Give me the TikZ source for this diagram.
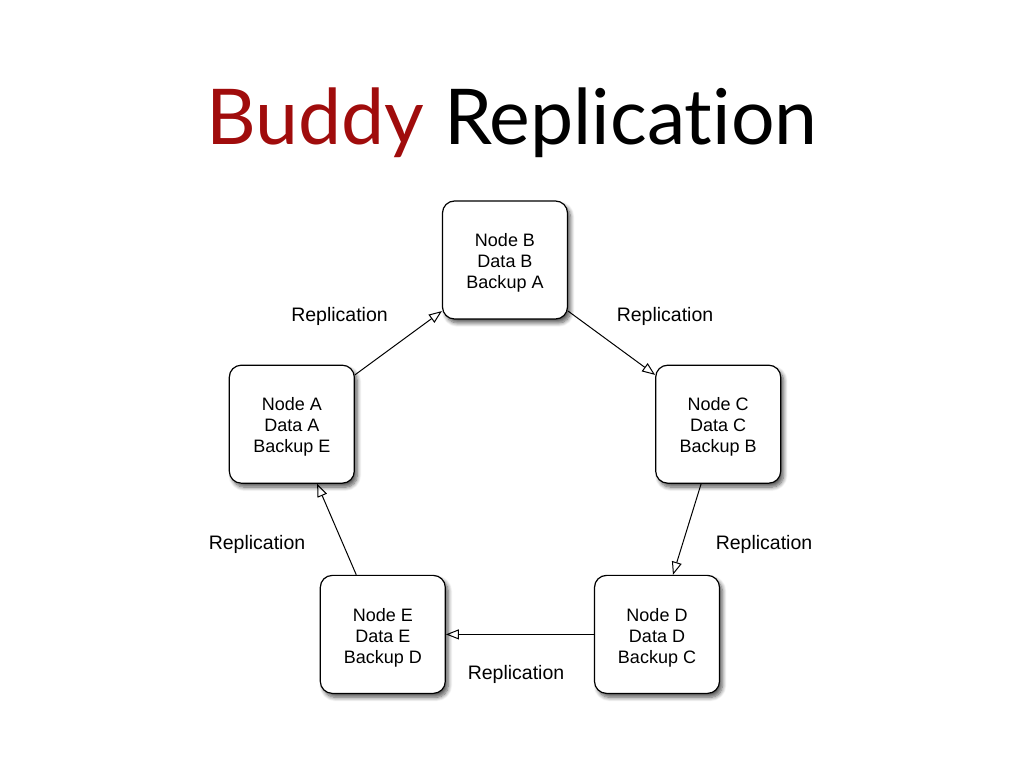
\documentclass[tikz,border=0pt]{standalone}
\usepackage{fontspec}
\setmainfont{Liberation Sans}
\newfontfamily\titlefont[Ligatures=NoCommon]{Lato}
\usepackage{tikz}
\usetikzlibrary{positioning,arrows.meta,shadows.blur}
\definecolor{buddyred}{RGB}{160,12,12}
\tikzset{
  box/.style={rectangle, draw, line width=1.2pt, rounded corners=12pt, fill=white,
              minimum width=125pt, minimum height=118pt, inner sep=2pt, text height=61pt,
              align=center, font=\fontsize{18}{21}\selectfont,
              blur shadow={shadow xshift=3pt, shadow yshift=-4pt, shadow blur steps=8,
                           shadow blur radius=4pt, shadow opacity=65}},
  repl/.style={->, line width=1pt, >={Triangle[open, length=13pt, width=10pt]}},
  lbl/.style={font=\fontsize{19.5}{22}\selectfont, inner sep=0pt, anchor=base},
}
\begin{document}
\begin{tikzpicture}[x=1pt, y=1pt]
  \useasboundingbox (0,0) rectangle (1024,768);

  \node[anchor=base, inner sep=0pt, font=\titlefont\fontsize{77}{90}\selectfont] (title) at (512,623)
    {\textcolor{buddyred}{Buddy} Replication};

  \node[box] (nodeB) at (505,508) {Node B\\Data B\\Backup A};
  \node[box] (nodeA) [below left=45pt and 87pt of nodeB] {Node A\\Data A\\Backup E};
  \node[box] (nodeC) [below right=45pt and 87pt of nodeB] {Node C\\Data C\\Backup B};
  \node[box] (nodeE) [below=91pt of nodeA, xshift=91pt] {Node E\\Data E\\Backup D};
  \node[box] (nodeD) [right=148pt of nodeE] {Node D\\Data D\\Backup C};

  \draw[repl] (nodeA.38) -- (nodeB.219);
  \draw[repl] (nodeB.-39) -- (nodeC.142);
  \draw[repl] (nodeC.254) -- (nodeD.75);
  \draw[repl] (nodeD.west) -- (nodeE.east);
  \draw[repl] (nodeE.114) -- (nodeA.-67);

  \node[lbl] (lblAB) at (339.5,446) {Replication};
  \node[lbl] (lblBC) at (665,446) {Replication};
  \node[lbl] (lblCD) at (764,218) {Replication};
  \node[lbl] (lblDE) at (516,89) {Replication};
  \node[lbl] (lblEA) at (257,218) {Replication};

\end{tikzpicture}
\end{document}
